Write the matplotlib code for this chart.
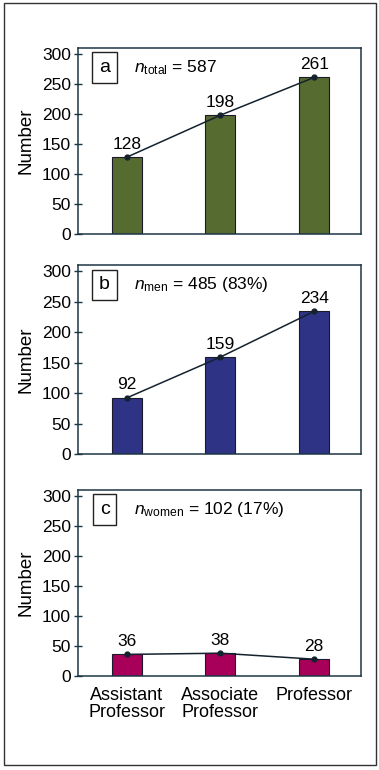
import matplotlib

matplotlib.use("Agg")
import matplotlib.pyplot as plt
from matplotlib.patches import Rectangle

categories = ["Assistant\nProfessor", "Associate\nProfessor", "Professor"]
total = [128, 198, 261]
men = [92, 159, 234]
women = [36, 38, 28]
panel_letters = ["a", "b", "c"]
panel_notes = [
    r"$\mathit{n}_{\mathrm{total}}$ = 587",
    r"$\mathit{n}_{\mathrm{men}}$ = 485 (83%)",
    r"$\mathit{n}_{\mathrm{women}}$ = 102 (17%)",
]
series = [total, men, women]
colors = ["#566b30", "#2e3386", "#a8005a"]

plt.rcParams["font.family"] = ["Liberation Sans", "DejaVu Sans"]
plt.rcParams["mathtext.fontset"] = "custom"
plt.rcParams["mathtext.rm"] = "Liberation Sans"
plt.rcParams["mathtext.it"] = "Liberation Sans:italic"

W, H = 379, 770
fig = plt.figure(figsize=(W / 100, H / 100), dpi=100)

spine_col = "#1c3544"
# axes boxes in pixel coords: left, top, right, bottom
boxes = [(78, 48, 361, 234), (78, 265, 361, 454), (78, 490, 361, 676)]
xs = list(range(len(categories)))

for i, (vals, col) in enumerate(zip(series, colors)):
    l, t, r, b = boxes[i]
    ax = fig.add_axes([l / W, 1 - b / H, (r - l) / W, (b - t) / H])
    ax.bar(xs, vals, width=0.32, color=col, edgecolor="#1a1a2a", linewidth=0.8, zorder=2)
    ax.plot(xs, vals, "-o", color="#14222e", markersize=3.5, linewidth=1.1, zorder=3)
    for x, v in zip(xs, vals):
        ax.annotate(str(v), (x, v), xytext=(0, 4), textcoords="offset points",
                    ha="center", va="bottom", fontsize=12.5)
    ax.set_xlim(-0.52, 2.5)
    ax.set_ylim(0, 310)
    ax.set_yticks(range(0, 301, 50))
    ax.tick_params(axis="y", direction="inout", length=6, width=1, labelsize=12.5,
                   color=spine_col, pad=2)
    for s in ax.spines.values():
        s.set_color(spine_col)
        s.set_linewidth(1.1)
    ax.set_ylabel("Number", fontsize=13.5, labelpad=5)
    if i == 2:
        ax.set_xticks(xs)
        ax.set_xticklabels(categories, fontsize=13, linespacing=1.0)
        ax.tick_params(axis="x", length=0, pad=8)
    else:
        ax.set_xticks([])
    ax.text(0.094, 0.895, panel_letters[i], transform=ax.transAxes, fontsize=14,
            ha="center", va="center",
            bbox=dict(boxstyle="square,pad=0.35", facecolor="white",
                      edgecolor="#222222", linewidth=1.0))
    ax.text(0.198, 0.895, panel_notes[i], transform=ax.transAxes, fontsize=12.5,
            ha="left", va="center")

fig.patches.append(Rectangle((4 / W, 1 - 765 / H), 372 / W, 762 / H,
                             transform=fig.transFigure, fill=False,
                             edgecolor="#333333", linewidth=1.0))

fig.savefig("out.png", dpi=100)
